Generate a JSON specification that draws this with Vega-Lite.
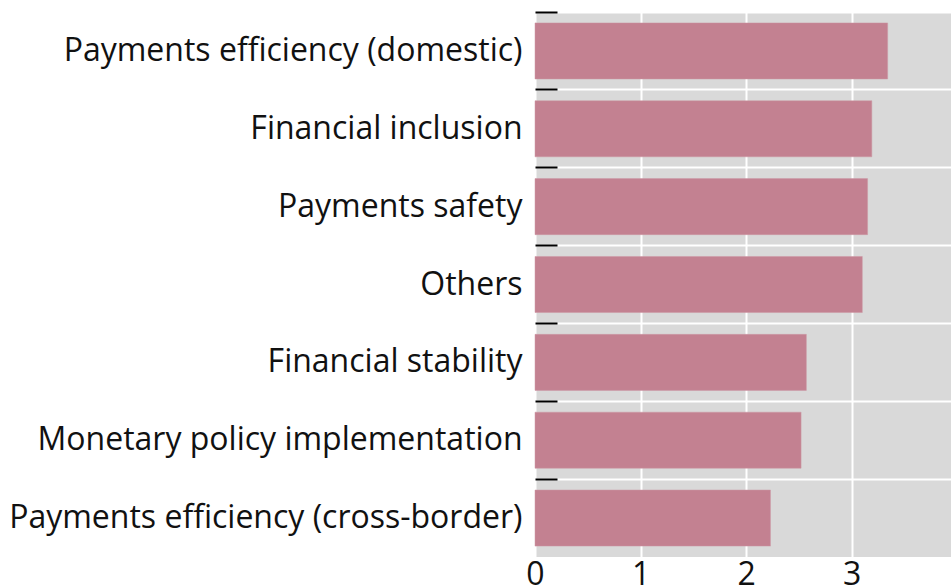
{
  "$schema": "https://vega.github.io/schema/vega-lite/v6.json",
  "autosize": "none",
  "padding": {"left": 535, "top": 12, "right": 0, "bottom": 30},
  "width": 416,
  "height": 545,
  "background": "white",
  "config": {
    "view": {"fill": "#D9D9D9", "stroke": null},
    "font": "Open Sans"
  },
  "data": {
    "values": [
      {"category": "Payments efficiency (domestic)", "value": 3.34},
      {"category": "Financial inclusion", "value": 3.19},
      {"category": "Payments safety", "value": 3.15},
      {"category": "Others", "value": 3.10},
      {"category": "Financial stability", "value": 2.57},
      {"category": "Monetary policy implementation", "value": 2.52},
      {"category": "Payments efficiency (cross-border)", "value": 2.23}
    ]
  },
  "mark": {"type": "bar", "color": "#C38191", "stroke": "#CC99A5", "strokeWidth": 0.5},
  "encoding": {
    "y": {
      "field": "category",
      "type": "nominal",
      "sort": null,
      "scale": {"paddingInner": 0.28, "paddingOuter": 0.14},
      "axis": {
        "title": null,
        "bandPosition": -0.1944,
        "labelFontSize": 32,
        "labelColor": "#111111",
        "labelPadding": 35,
        "labelLimit": 600,
        "domain": false,
        "tickSize": -22,
        "tickColor": "black",
        "tickWidth": 2,
        "grid": true,
        "gridColor": "white",
        "gridWidth": 2
      }
    },
    "x": {
      "field": "value",
      "type": "quantitative",
      "scale": {"domain": [0, 3.94], "nice": false},
      "axis": {
        "title": null,
        "values": [0, 1, 2, 3],
        "labelFontSize": 32,
        "labelColor": "#111111",
        "labelPadding": 2,
        "domain": false,
        "ticks": false,
        "grid": true,
        "gridColor": "white",
        "gridWidth": 2,
        "labelFlush": false
      }
    }
  }
}
